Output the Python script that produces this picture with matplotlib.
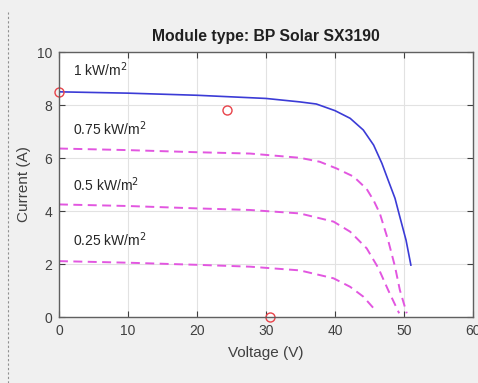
import numpy as np
import matplotlib
matplotlib.use("Agg")
import matplotlib.pyplot as plt
from matplotlib.lines import Line2D

plt.rcParams["font.family"] = ["Liberation Sans", "DejaVu Sans"]

# I-V curves
v_1000 = [0, 10, 20, 30, 34.9, 37.3, 40, 42.2, 44.1, 45.6, 46.8, 47.7, 48.7,
          49.4, 50.3, 51.0]
i_1000 = [8.5, 8.45, 8.37, 8.25, 8.12, 8.04, 7.79, 7.5, 7.06, 6.49, 5.8, 5.17,
          4.48, 3.78, 2.9, 1.96]

v_750 = [0, 10, 20, 27.7, 34.9, 37.8, 40.2, 42.7, 44.6, 45.6, 46.5, 47.7,
         48.7, 49.4, 50.4]
i_750 = [6.36, 6.3, 6.22, 6.17, 6.01, 5.86, 5.61, 5.3, 4.83, 4.4, 3.91, 2.9,
         1.9, 1.02, 0.14]

v_500 = [0, 10, 20, 27.7, 34.9, 39.8, 42.2, 44.6, 46.3, 47.7, 49.3]
i_500 = [4.25, 4.19, 4.1, 4.04, 3.91, 3.6, 3.22, 2.59, 1.84, 1.02, 0.14]

v_250 = [0, 10, 20, 27.7, 34.9, 39.8, 42.2, 44.1, 45.6]
i_250 = [2.11, 2.05, 1.97, 1.9, 1.76, 1.46, 1.14, 0.77, 0.33]

marker_v = [0, 24.3, 30.6]
marker_i = [8.5, 7.8, 0]

labels = ["1 kW/m$^2$", "0.75 kW/m$^2$", "0.5 kW/m$^2$", "0.25 kW/m$^2$"]
label_y = [9.35, 7.1, 5.0, 2.9]

fig = plt.figure(figsize=(4.78, 3.83), dpi=100, facecolor="#f0f0f0")
ax = fig.add_axes([0.1234, 0.1723, 0.8661, 0.6917])
ax.set_facecolor("white")

ax.plot(v_1000, i_1000, color="#3b3bd6", lw=1.2)
for v, i in [(v_750, i_750), (v_500, i_500), (v_250, i_250)]:
    ax.plot(v, i, color="#e256e0", lw=1.4, dashes=(4.6, 2.8))
ax.plot(marker_v, marker_i, ls="none", marker="o", ms=6.5, mfc="none",
        mec="#e8434a", mew=1.0, clip_on=False)

for txt, y in zip(labels, label_y):
    ax.text(2.0, y, txt, fontsize=10, color="#262626", va="center")

ax.set_xlim(0, 60)
ax.set_ylim(0, 10)
ax.set_xticks(np.arange(0, 61, 10))
ax.set_yticks(np.arange(0, 11, 2))
ax.grid(True, color="#e2e2e2", lw=0.8)
ax.set_axisbelow(True)
ax.tick_params(direction="in", top=True, right=True, length=4,
               color="#404040", labelsize=10, labelcolor="#404040", pad=5)
for s in ax.spines.values():
    s.set_color("#606060")
    s.set_linewidth(1.0)

ax.set_xlabel("Voltage (V)", fontsize=11, color="#404040", labelpad=6)
ax.set_ylabel("Current (A)", fontsize=11, color="#404040")
ax.set_title("Module type: BP Solar SX3190", fontsize=11.3, fontweight="bold",
             color="#202020", pad=8)

fig.add_artist(Line2D([8 / 478, 8 / 478], [0, 1 - 12 / 383],
                      transform=fig.transFigure, color="#909090",
                      lw=0.8, ls=(0, (2, 2))))

fig.savefig("out.png", dpi=100, facecolor=fig.get_facecolor())
